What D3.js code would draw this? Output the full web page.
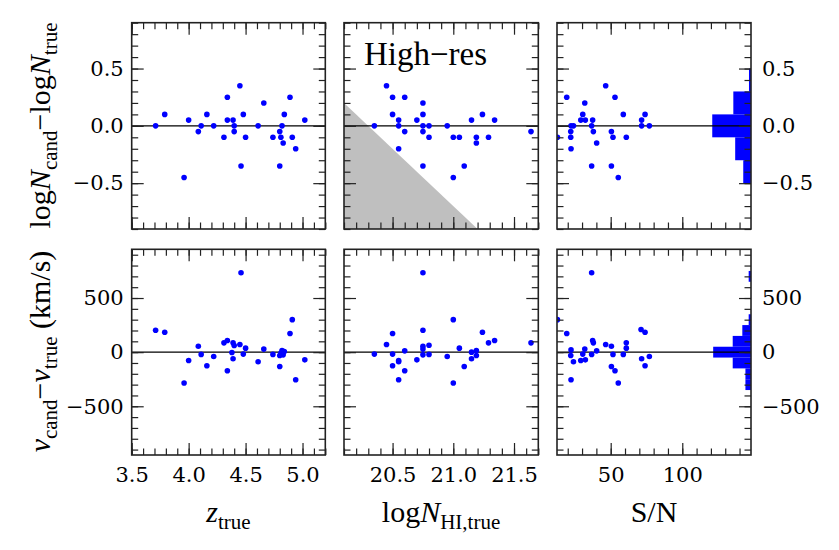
<!DOCTYPE html>
<html>
<head>
<meta charset="utf-8">
<script src="https://cdn.jsdelivr.net/npm/d3@7"></script>
<style>
body { margin: 0; background: #fff; }
</style>
</head>
<body>
<script>
// top-left: z_true vs logN_cand - logN_true
var zTop = [3.71, 3.79, 3.96, 4.00, 4.085, 4.11, 4.16, 4.22, 4.31, 4.34, 4.34, 4.39, 4.40, 4.40, 4.45, 4.46,
            4.48, 4.50, 4.61, 4.66, 4.74, 4.80, 4.80, 4.81, 4.82, 4.83, 4.84, 4.89, 4.91, 4.94, 5.02];
var dlogNz = [0, 0.1, -0.45, 0.05, -0.05, 0, 0.1, 0, -0.1, 0.25, 0.05, 0.05, 0, -0.05, 0.35, -0.35,
              0.1, -0.1, 0, 0.2, -0.1, -0.05, -0.35, -0.1, 0, -0.15, 0.1, 0.25, -0.1, -0.2, 0.05];

// bottom-left: z_true vs v_cand - v_true
var zBot = [3.71, 3.79, 3.96, 4.00, 4.085, 4.11, 4.16, 4.22, 4.31, 4.34, 4.34, 4.38, 4.39, 4.40, 4.39, 4.45,
            4.46, 4.48, 4.50, 4.61, 4.66, 4.74, 4.80, 4.80, 4.81, 4.82, 4.83, 4.84, 4.89, 4.91, 4.94, 5.02];
var dvz = [202, 184, -285, -77, 55, -21, -126, -40, 86, 107, -172, -3, 86, 61, -61, 71,
           733, -18, 37, -89, 28, -21, -132, -31, -9, 15, -25, 6, 172, 300, -255, -71];

// top-middle: logN_HI,true vs logN_cand - logN_true
var nTop = [20.35, 20.45, 20.50, 20.60, 20.50, 20.55, 20.55, 20.55, 20.60, 20.70, 20.75, 20.75, 20.75, 20.75, 20.75,
            20.80, 20.80, 20.95, 21.00, 21.00, 21.05, 21.09, 21.15, 21.19, 21.19, 21.24, 21.29, 21.34, 21.64];
var dlogNn = [0, 0.35, 0.25, 0.25, 0.1, 0.05, 0, -0.2, -0.05, 0.05, 0.2, 0.1, 0, -0.05, -0.35,
              0, -0.1, 0, -0.1, -0.45, -0.1, -0.35, 0.05, -0.1, -0.15, 0.1, -0.1, 0.05, -0.05];

// bottom-middle: logN_HI,true vs v_cand - v_true
var nBot = [20.35, 20.45, 20.50, 20.50, 20.50, 20.55, 20.55, 20.55, 20.60, 20.60, 20.70, 20.75, 20.75, 20.75, 20.75, 20.75,
            20.80, 20.80, 20.95, 21.00, 21.00, 21.05, 21.09, 21.15, 21.15, 21.19, 21.19, 21.24, 21.29, 21.34, 21.64];
var dvn = [-18, 71, 172, -18, -126, -77, -89, -255, 12, -172, -71, 733, 202, 55, 28, -25,
           64, -21, -40, 300, -285, 37, -132, 0, -61, 15, -31, 184, 86, 107, 86];

// top-right: S/N vs logN_cand - logN_true
var snTop = [12.8, 19.3, 22.3, 24.0, 22.1, 22.1, 22.3, 29.1, 30.5, 31.9, 32.3, 36.7, 36.7, 37.4, 37.9, 40.2,
             46.5, 50.5, 51.6, 50.5, 53.0, 55.3, 58.8, 60.9, 71.6, 71.6, 74.0, 77.0];
var dlogNs = [-0.1, 0.25, 0, 0, -0.05, -0.1, -0.2, 0.05, 0.1, 0.2, 0.05, 0, -0.35, 0.05, -0.05, -0.15,
              0.35, -0.05, -0.1, -0.35, 0.25, -0.45, 0.1, -0.1, 0, 0.05, 0.1, 0];

// bottom-right: S/N vs v_cand - v_true
var snBot = [12.8, 19.3, 22.3, 22.1, 24.0, 22.3, 29.1, 30.5, 31.9, 32.3, 36.7, 36.7, 37.4, 37.9, 40.2, 46.5,
             50.5, 51.6, 50.5, 53.0, 55.3, 58.8, 60.9, 60.9, 71.2, 74.0, 71.6, 74.0, 77.0];
var dvs = [300, 172, 21, -31, -89, -255, -77, -18, 28, -71, 733, -21, 107, 86, 12, 71,
           55, -21, -132, -172, -285, -21, 86, 37, 209, 184, -61, -126, -40];

// side histograms (bin edges and heights)
var dlogNEdges = [-0.5, -0.3, -0.1, 0.1, 0.3, 0.5];
var dlogNHist = [2.5, 5.1, 12.5, 5.7, 0.65];
var dvEdges = [-350, -250, -150, -50, 50, 150, 250, 350, 450, 550, 650, 750];
var dvHist = [1.8, 1.8, 5.9, 12.2, 5.9, 2.8, 0.75, 0, 0, 0, 0.75];

// ticks
var zMajor = [3.5, 4.0, 4.5, 5.0];
var nMajor = [20.5, 21.0, 21.5];
var snMajor = [50, 100];
var dlogNMajor = [-0.5, 0.0, 0.5];
var dvMajor = [-500, 0, 500];

// detection limit for the shaded area
var logNLimit = 20.3;

var tickFont = "'DejaVu Serif'";
var labelFont = "'Liberation Serif'";

// layout
var cols = [[131.7, 325.3], [344, 538.3], [557, 751]];
var rows = [[22.7, 229], [249.3, 455]];
var xDomains = [[3.5, 5.2], [20.1, 21.7], [12.5, 148]];
var yDomains = [[-0.9, 0.9], [-950, 950]];
var xMinor = [d3.range(3.5, 5.21, 0.1), d3.range(20.1, 21.71, 0.1), d3.range(20, 141, 10)];
var yMinor = [d3.range(-0.9, 0.91, 0.1), d3.range(-900, 901, 100)];
var xMajor = [zMajor, nMajor, snMajor];
var yMajor = [dlogNMajor, dvMajor];

var svg = d3.select("body").append("svg")
    .attr("width", 839)
    .attr("height", 550);

var clipN = 0;

function panel(ci, ri, xs, ys) {
    var x0 = cols[ci][0], x1 = cols[ci][1], y0 = rows[ri][0], y1 = rows[ri][1];
    var x = d3.scaleLinear().domain(xDomains[ci]).range([x0, x1]);
    var y = d3.scaleLinear().domain(yDomains[ri]).range([y1, y0]);
    var g = svg.append("g");

    var id = "clip" + (clipN++);
    g.append("clipPath").attr("id", id).append("rect")
        .attr("x", x0).attr("y", y0).attr("width", x1 - x0).attr("height", y1 - y0);
    var inner = g.append("g").attr("clip-path", "url(#" + id + ")");

    // shaded region below detection limit (top-middle)
    if (ci == 1 && ri == 0) {
        var xd = xDomains[1], yd = yDomains[0];
        var tri = [[xd[0], logNLimit - xd[0]], [xd[0], yd[0]], [logNLimit - yd[0], yd[0]]];
        inner.append("path")
            .attr("d", "M" + tri.map(function(p) { return x(p[0]) + "," + y(p[1]); }).join("L") + "Z")
            .attr("fill", "#bfbfbf");
    }

    // side histogram (right column)
    if (ci == 2) {
        var edges = ri == 0 ? dlogNEdges : dvEdges;
        var hist = ri == 0 ? dlogNHist : dvHist;
        var hx = d3.scaleLinear().domain([0, 20]).range([x1, x1 - 62]);
        inner.selectAll("rect.bar").data(hist).enter().append("rect")
            .attr("class", "bar")
            .attr("x", function(d) { return hx(d); })
            .attr("width", function(d) { return x1 - hx(d); })
            .attr("y", function(d, i) { return y(edges[i + 1]); })
            .attr("height", function(d, i) { return y(edges[i]) - y(edges[i + 1]); })
            .attr("fill", "#0000ff");
    }

    // zero line
    inner.append("line")
        .attr("x1", x0).attr("x2", x1)
        .attr("y1", y(0)).attr("y2", y(0))
        .attr("stroke", "#000").attr("stroke-width", 1.3);

    inner.selectAll("circle").data(xs).enter().append("circle")
        .attr("cx", function(d) { return x(d); })
        .attr("cy", function(d, i) { return y(ys[i]); })
        .attr("r", 2.8)
        .attr("fill", "#0000ff");

    // ticks, all pointing inwards
    function ax(gen, tr, vals, size, labels, pad) {
        var a = g.append("g")
            .attr("transform", tr)
            .style("color", "#222")
            .call(gen.tickValues(vals).tickSize(-size).tickPadding(pad || 8)
                .tickFormat(labels ? labels : ""));
        a.select(".domain").remove();
        a.selectAll("line").attr("stroke-width", 1.2);
        a.selectAll("text")
            .style("font-family", tickFont)
            .style("font-size", "21px")
            .style("fill", "#000");
    }
    var xFmt = ri == 1 ? (ci == 2 ? d3.format("d") : d3.format(".1f")) : null;
    var yFmt = ri == 0 ? d3.format(".1f") : d3.format("d");

    ax(d3.axisBottom(x), "translate(0," + y1 + ")", xMinor[ci], 6.5);
    ax(d3.axisBottom(x), "translate(0," + y1 + ")", xMajor[ci], 12, xFmt, 12);
    ax(d3.axisTop(x), "translate(0," + y0 + ")", xMinor[ci], 6.5);
    ax(d3.axisTop(x), "translate(0," + y0 + ")", xMajor[ci], 12);
    ax(d3.axisLeft(y), "translate(" + x0 + ",0)", yMinor[ri], 6.5);
    ax(d3.axisLeft(y), "translate(" + x0 + ",0)", yMajor[ri], 12, ci == 0 ? yFmt : null, 8);
    ax(d3.axisRight(y), "translate(" + x1 + ",0)", yMinor[ri], 6.5);
    ax(d3.axisRight(y), "translate(" + x1 + ",0)", yMajor[ri], 12, ci == 2 ? yFmt : null, 11);

    // frame
    g.append("rect")
        .attr("x", x0).attr("y", y0)
        .attr("width", x1 - x0).attr("height", y1 - y0)
        .attr("fill", "none")
        .attr("stroke", "#222")
        .attr("stroke-width", 1.6);
}

panel(0, 0, zTop, dlogNz);
panel(1, 0, nTop, dlogNn);
panel(2, 0, snTop, dlogNs);
panel(0, 1, zBot, dvz);
panel(1, 1, nBot, dvn);
panel(2, 1, snBot, dvs);

// labels with italic letters and subscripts
function mathText(x, y, parts, size, rotate) {
    var t = svg.append("text")
        .style("font-family", labelFont)
        .style("font-size", size + "px")
        .attr("fill", "#000")
        .attr("text-anchor", "middle")
        .attr("transform", "translate(" + x + "," + y + ")" + (rotate ? " rotate(-90)" : ""));
    var shift = size * 0.22, low = false;
    parts.forEach(function(p) {
        var s = t.append("tspan").text(p[0]);
        if (p[1] == "i") s.style("font-style", "italic");
        if (p[1] == "s") {
            s.style("font-size", (size * 0.7) + "px");
            if (!low) { s.attr("dy", shift); low = true; }
        } else if (low) {
            s.attr("dy", -shift); low = false;
        }
    });
    return t;
}

var fs = 30;
mathText(228.5, 522, [["z", "i"], ["true", "s"]], fs);
mathText(441, 522, [["log", "r"], ["N", "i"], ["HI,true", "s"]], fs);
mathText(654, 522, [["S/N", "r"]], fs);
mathText(50, 125.5, [["log", "r"], ["N", "i"], ["cand", "s"], ["\u2212log", "r"], ["N", "i"], ["true", "s"]], fs, true);
mathText(50, 351.5, [["v", "i"], ["cand", "s"], ["\u2212", "r"], ["v", "i"], ["true", "s"], [" (km/s)", "r"]], fs, true);

svg.append("text")
    .style("font-family", labelFont)
    .style("font-size", "33px")
    .attr("x", cols[1][0] + 20)
    .attr("y", rows[0][0] + 42.5)
    .text("High\u2212res");
</script>
</body>
</html>
